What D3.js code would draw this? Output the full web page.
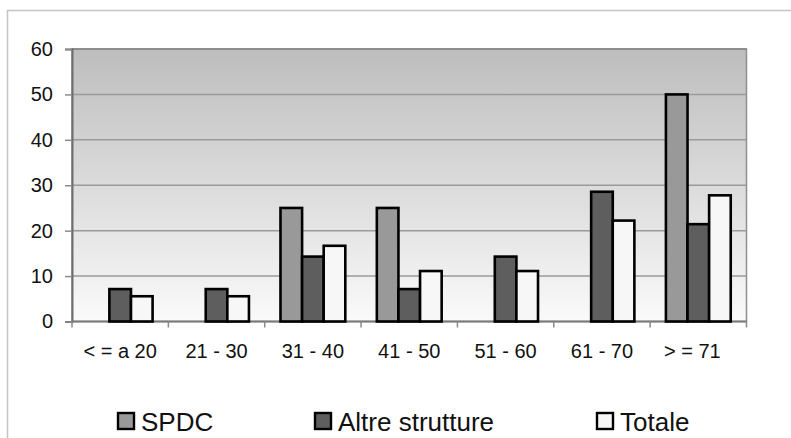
<!DOCTYPE html>
<html>
<head>
<meta charset="utf-8">
<script src="https://cdn.jsdelivr.net/npm/d3@7"></script>
<style>
  html, body { margin: 0; padding: 0; background: #ffffff; }
  svg { display: block; font-family: Arial, "Liberation Sans", sans-serif; }
</style>
</head>
<body>
<svg id="chart" width="791" height="438"></svg>
<script>
// Age classes and percentage of patients per structure
const categories = ["< = a 20", "21 - 30", "31 - 40", "41 - 50", "51 - 60", "61 - 70", "> = 71"];
const spdc = [0, 0, 25, 25, 0, 0, 50];
const altre = [7.14, 7.14, 14.29, 7.14, 14.29, 28.57, 21.43];
const totale = [5.56, 5.56, 16.67, 11.11, 11.11, 22.22, 27.78];
const seriesNames = ["SPDC", "Altre strutture", "Totale"];
const yTicks = [0, 10, 20, 30, 40, 50, 60];

const seriesValues = [spdc, altre, totale];
const fills = ["#999999", "#5e5e5e", "#f7f7f7"];

const svg = d3.select("#chart");
const plot = { left: 72, right: 746.5, top: 49, bottom: 321.5 };

// outer chart frame (continues past the right and bottom edges)
svg.append("rect")
  .attr("x", 7.5).attr("y", 10.5)
  .attr("width", 800).attr("height", 450)
  .attr("fill", "#ffffff")
  .attr("stroke", "#c4c4c4").attr("stroke-width", 1.5);

// plot background gradient
const defs = svg.append("defs");
const grad = defs.append("linearGradient")
  .attr("id", "plotBg").attr("x1", 0).attr("y1", 0).attr("x2", 0).attr("y2", 1);
grad.append("stop").attr("offset", "0%").attr("stop-color", "#bdbdbd");
grad.append("stop").attr("offset", "55%").attr("stop-color", "#dedede");
grad.append("stop").attr("offset", "100%").attr("stop-color", "#fafafa");

svg.append("rect")
  .attr("x", plot.left).attr("y", plot.top)
  .attr("width", plot.right - plot.left).attr("height", plot.bottom - plot.top)
  .attr("fill", "url(#plotBg)")
  .attr("stroke", "#8f8f8f").attr("stroke-width", 1.5);

const x = d3.scaleBand().domain(categories).range([plot.left, plot.right]).paddingInner(0).paddingOuter(0);
const x1 = d3.scaleBand().domain(seriesNames).range([0, x.bandwidth()]).paddingInner(0).paddingOuter(0.73);
const y = d3.scaleLinear().domain([0, 60]).range([plot.bottom, plot.top]);

// horizontal gridlines
svg.append("g").selectAll("line")
  .data(yTicks.filter(t => t > 0))
  .join("line")
  .attr("x1", plot.left).attr("x2", plot.right)
  .attr("y1", d => y(d)).attr("y2", d => y(d))
  .attr("stroke", d => d === 60 ? "#858585" : "#9a9a9a")
  .attr("stroke-width", 1.5);

// y axis
const yAxis = svg.append("g")
  .attr("transform", `translate(${plot.left},0)`)
  .call(d3.axisLeft(y).tickValues(yTicks).tickSize(7).tickPadding(12).tickFormat(d3.format("d")));
yAxis.select(".domain").attr("stroke", "#6e6e6e").attr("stroke-width", 2);
yAxis.selectAll(".tick line").attr("stroke", "#8a8a8a").attr("stroke-width", 1.5);
yAxis.selectAll(".tick text").attr("font-size", 20).attr("fill", "#111").attr("font-family", "Arial, 'Liberation Sans', sans-serif");

// x axis: tick marks at category boundaries
const xAxisG = svg.append("g");
xAxisG.append("line")
  .attr("x1", plot.left).attr("x2", plot.right)
  .attr("y1", plot.bottom).attr("y2", plot.bottom)
  .attr("stroke", "#7a7a7a").attr("stroke-width", 2);
const boundaries = categories.map(c => x(c)).concat([x(categories[categories.length - 1]) + x.bandwidth()]);
xAxisG.selectAll("line.tk")
  .data(boundaries)
  .join("line").attr("class", "tk")
  .attr("x1", d => d).attr("x2", d => d)
  .attr("y1", plot.bottom).attr("y2", plot.bottom + 6)
  .attr("stroke", "#8a8a8a").attr("stroke-width", 1.5);
xAxisG.selectAll("text")
  .data(categories)
  .join("text")
  .attr("x", d => x(d) + x.bandwidth() / 2 + (d === "> = 71" ? -6 : 0))
  .attr("y", 358)
  .attr("text-anchor", "middle")
  .attr("font-size", 20)
  .attr("fill", "#111")
  .text(d => d);

// bars
const barData = [];
categories.forEach((c, i) => {
  seriesNames.forEach((s, k) => {
    const v = seriesValues[k][i];
    if (v > 0) barData.push({ c, s, v, k });
  });
});
svg.append("g").selectAll("rect")
  .data(barData)
  .join("rect")
  .attr("x", d => x(d.c) + x1(d.s))
  .attr("y", d => y(d.v))
  .attr("width", x1.bandwidth())
  .attr("height", d => y(0) - y(d.v))
  .attr("fill", d => fills[d.k])
  .attr("stroke", "#000")
  .attr("stroke-width", 2.6);

// legend
const legendX = [118, 315, 597];
const legend = svg.append("g");
seriesNames.forEach((s, k) => {
  legend.append("rect")
    .attr("x", legendX[k]).attr("y", 413)
    .attr("width", 16).attr("height", 16)
    .attr("fill", fills[k])
    .attr("stroke", "#000").attr("stroke-width", 2.4);
  legend.append("text")
    .attr("x", legendX[k] + 23).attr("y", 430.5)
    .attr("font-size", 26)
    .attr("fill", "#111")
    .text(s);
});
</script>
</body>
</html>
